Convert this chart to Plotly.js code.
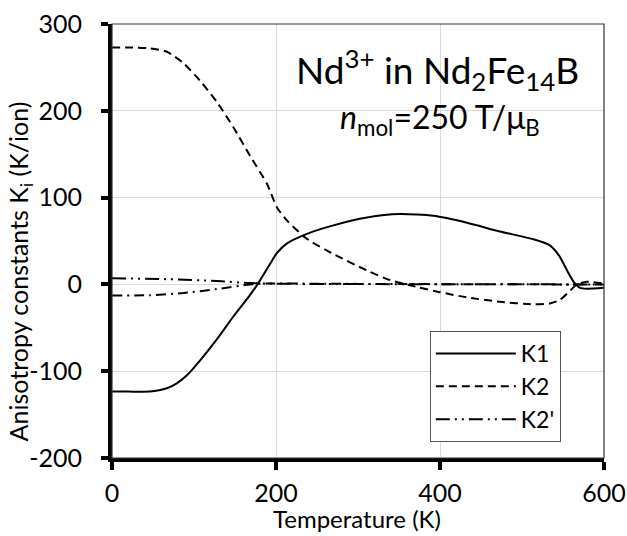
<!DOCTYPE html>
<html>
<head>
<meta charset="utf-8">
<script src="https://cdn.plot.ly/plotly-3.0.1.min.js"></script>
<style>html,body{margin:0;padding:0;background:#fff;}#chart{width:627px;height:536px;}</style>
</head>
<body>
<div id="chart"></div>
<script>
// K1 (solid)
var k1T = [0, 20, 46, 67, 79, 91, 107, 128, 148, 168, 180, 193, 201, 213, 237, 270, 311, 351, 392, 433, 473, 514, 534, 546, 555, 563, 571, 579, 600];
var k1V = [-123.5, -123.5, -123.5, -119.6, -114, -105, -88, -63, -37, -12.7, 3.8, 24, 36, 47, 58, 68, 77, 81, 79, 71, 61, 52, 45, 32, 16, 3, -4, -5, -4];
// K2 (dashed)
var k2T = [0, 20, 46, 67, 87, 107, 128, 148, 169, 189, 201, 213, 237, 270, 311, 339, 372, 400, 433, 473, 514, 534, 546, 559, 567, 579, 600];
var k2V = [273, 273, 272, 268, 255, 235, 210, 181, 147, 116, 89, 74, 53, 35, 16, 5, -3, -9, -15, -20, -23, -22, -18, -7, 0, 3, 1];
// K2' (dash-dot-dot)
var k2pT = [0, 67, 128, 169, 200, 300, 400, 500, 560, 600];
var k2pV = [7, 6, 4, 1.5, 0.8, 0.4, 0.2, 0.1, 0, 0];
// unlabelled dash-dot curve
var k3T = [0, 46, 87, 128, 169, 189, 250, 350, 450, 550, 600];
var k3V = [-12.7, -12.5, -10, -5.4, 0, 1, 0.8, 0.4, 0.2, 0, 0];

var xTitle = 'Temperature (K)';
var yTitle = 'Anisotropy constants K<sub>i</sub> (K/ion)';

var lineW = 2;
var traces = [
  {x: k1T, y: k1V, name: 'K1', mode: 'lines', line: {color: '#000', width: lineW, shape: 'spline', smoothing: 0.6}},
  {x: k2T, y: k2V, name: 'K2', mode: 'lines', line: {color: '#000', width: lineW, dash: '8px,5px', shape: 'spline', smoothing: 0.6}},
  {x: k2pT, y: k2pV, name: "K2'", mode: 'lines', line: {color: '#000', width: lineW, dash: '14px,5px,2px,5px,2px,5px', shape: 'spline', smoothing: 0.6}},
  {x: k3T, y: k3V, name: 'K3', showlegend: false, mode: 'lines', line: {color: '#000', width: lineW, dash: '10px,5px,2px,5px', shape: 'spline', smoothing: 0.6}}
];

var fontFam = 'Lato, "Open Sans", sans-serif';
var layout = {
  width: 627, height: 536,
  margin: {l: 112, r: 23, t: 24, b: 78},
  paper_bgcolor: '#fff', plot_bgcolor: '#fff',
  font: {family: fontFam, color: '#000'},
  xaxis: {
    range: [0, 600], tickvals: [0, 200, 400, 600], ticktext: ['0', '200', '400', '600'],
    showgrid: true, gridcolor: '#d9d9d9', gridwidth: 1, zeroline: false,
    showline: true, linecolor: '#000', linewidth: 4,
    ticks: 'outside', ticklen: 8, tickwidth: 4, tickcolor: '#000',
    ticklabelstandoff: 2,
    tickfont: {size: 25, family: fontFam, color: '#000'}
  },
  yaxis: {
    range: [-200, 300], tickvals: [-200, -100, 0, 100, 200, 300], ticktext: ['-200', '-100', '0', '100', '200', '300'],
    showgrid: true, gridcolor: '#d9d9d9', gridwidth: 1, zeroline: false,
    showline: true, linecolor: '#000', linewidth: 4,
    ticks: 'outside', ticklen: 7, tickwidth: 4, tickcolor: '#000',
    ticklabelstandoff: 14,
    tickfont: {size: 25, family: fontFam, color: '#000'}
  },
  shapes: [
    {type: 'rect', xref: 'paper', yref: 'paper', x0: 0, x1: 1, y0: 0, y1: 1, line: {color: '#333', width: 1.2}, layer: 'above'}
  ],
  legend: {
    x: 0.646, xanchor: 'left', y: 0.037, yanchor: 'bottom',
    bgcolor: '#fff', bordercolor: '#555', borderwidth: 1,
    font: {size: 23, family: fontFam, color: '#000'},
    itemwidth: 80, tracegroupgap: 0
  },
  annotations: [
    {xref: 'paper', yref: 'paper', x: 0.661, y: 0.895, xanchor: 'center', yanchor: 'middle', showarrow: false,
     text: 'Nd<sup>3+</sup> in Nd<sub>2</sub>Fe<sub>14</sub>B', font: {size: 37, family: fontFam, color: '#000'}},
    {xref: 'paper', yref: 'paper', x: 0.667, y: 0.78, xanchor: 'center', yanchor: 'middle', showarrow: false,
     text: '<i>n</i><sub>mol</sub>=250 T/μ<sub>B</sub>', font: {size: 32, family: fontFam, color: '#000'}},
    {xref: 'paper', yref: 'paper', x: 0.498, y: -0.1775, xanchor: 'center', yanchor: 'bottom', showarrow: false,
     text: xTitle, font: {size: 24, family: fontFam, color: '#000'}},
    {xref: 'paper', yref: 'paper', x: -0.187, y: 0.43, xanchor: 'center', yanchor: 'middle', showarrow: false, textangle: -90,
     text: yTitle, font: {size: 25, family: fontFam, color: '#000'}}
  ],
  showlegend: true
};

Plotly.newPlot('chart', traces, layout, {displayModeBar: false, staticPlot: true});
</script>
</body>
</html>
